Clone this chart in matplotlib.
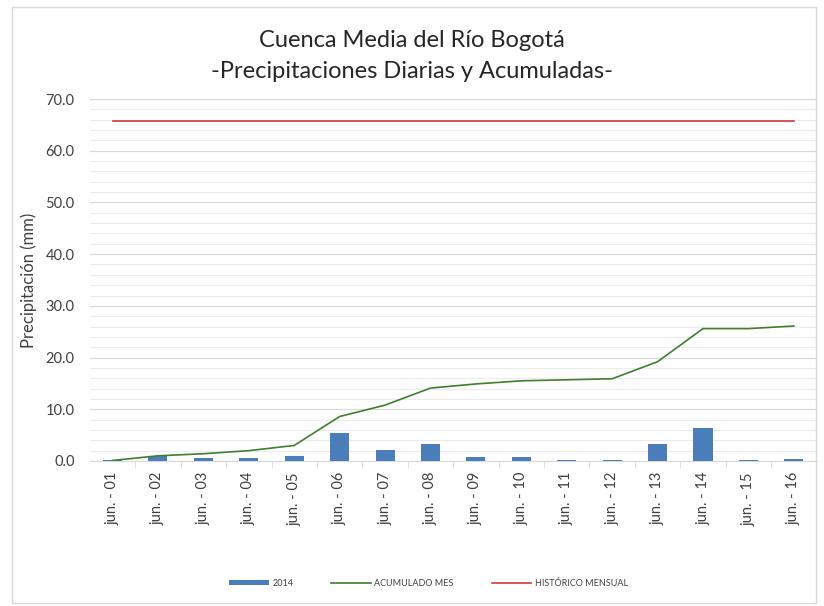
import matplotlib
matplotlib.use("Agg")
import matplotlib.pyplot as plt
from matplotlib.ticker import MultipleLocator, FormatStrFormatter
from matplotlib.patches import Rectangle

categories = ["jun. - 01", "jun. - 02", "jun. - 03", "jun. - 04", "jun. - 05", "jun. - 06",
              "jun. - 07", "jun. - 08", "jun. - 09", "jun. - 10", "jun. - 11", "jun. - 12",
              "jun. - 13", "jun. - 14", "jun. - 15", "jun. - 16"]
daily_2014 = [0.2, 1.0, 0.6, 0.6, 1.0, 5.5, 2.2, 3.3, 0.8, 0.8, 0.2, 0.2, 3.3, 6.3, 0.15, 0.4]
acumulado = [0.1, 1.0, 1.4, 2.0, 3.0, 8.6, 10.8, 14.1, 14.9, 15.5, 15.7, 15.9, 19.2, 25.6, 25.6, 26.1]
historico = [65.7] * len(categories)

plt.rcParams['font.family'] = ['Lato', 'DejaVu Sans']
fig = plt.figure(figsize=(8.24, 6.06), dpi=100)
fig.patch.set_facecolor('white')
fig.add_artist(Rectangle((0.015, 0.005), 0.975, 0.984, transform=fig.transFigure,
                         fill=False, edgecolor='#d9d9d9', linewidth=1))
ax = fig.add_axes([0.109, 0.2393, 0.882, 0.5973])

x = list(range(len(categories)))
hb = ax.bar(x, daily_2014, width=0.42, color='#4a7ebb', zorder=3, label='2014')
hg, = ax.plot(x, acumulado, color='#3f7f2e', linewidth=1.2, zorder=4, label='ACUMULADO MES')
hr, = ax.plot(x, historico, color='#cf3a3a', linewidth=1.2, zorder=4, label='HISTÓRICO MENSUAL')

ax.set_xlim(-0.5, len(categories) - 0.5)
ax.set_ylim(0, 70)
ax.yaxis.set_major_locator(MultipleLocator(10))
ax.yaxis.set_minor_locator(MultipleLocator(2))
ax.yaxis.set_major_formatter(FormatStrFormatter('%.1f'))
ax.grid(axis='y', which='major', color='#d9d9d9', linewidth=0.9, zorder=0)
ax.grid(axis='y', which='minor', color='#ececec', linewidth=0.8, zorder=0)
ax.tick_params(axis='y', which='both', length=0, labelsize=10.5, colors='#404040', pad=11)
ax.set_xticks(x)
ax.set_xticklabels(categories, rotation=90, fontsize=10.5, color='#404040')
ax.set_xticks([i + 0.5 for i in x[:-1]], minor=True)
ax.tick_params(axis='x', which='major', length=0, pad=8)
ax.tick_params(axis='x', which='minor', length=5, color='#d9d9d9')
for s in ['top', 'right', 'left']:
    ax.spines[s].set_visible(False)
ax.spines['bottom'].set_color('#d9d9d9')
ax.set_ylabel('Precipitación (mm)', fontsize=12, color='#404040', labelpad=6)

fig.text(0.5, 0.933, 'Cuenca Media del Río Bogotá', ha='center', va='center', fontsize=17,
         color='#262626', fontweight='normal')
fig.text(0.5, 0.882, '-Precipitaciones Diarias y Acumuladas-', ha='center', va='center', fontsize=17,
         color='#262626', fontweight='normal')

fig.legend([hb, hg, hr], ['2014', 'ACUMULADO MES', 'HISTÓRICO MENSUAL'],
           loc='center', bbox_to_anchor=(0.52, 0.037), ncol=3, frameon=False, fontsize=6.5,
           handlelength=4.4, handleheight=0.5, handletextpad=0.4, columnspacing=4.2,
           labelcolor='#404040')

fig.savefig('out.png', dpi=100, facecolor='white')
